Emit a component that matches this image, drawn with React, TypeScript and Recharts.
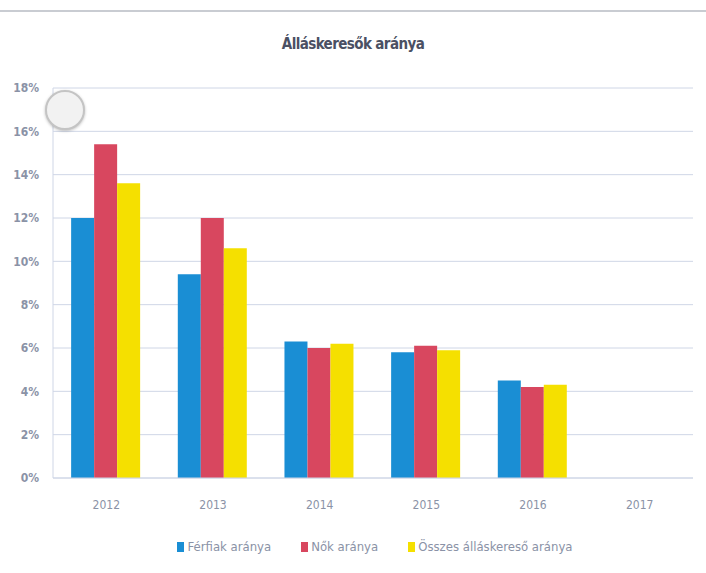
import React from 'react';
import { BarChart, Bar, XAxis, YAxis, CartesianGrid } from 'recharts';

const years = ['2012', '2013', '2014', '2015', '2016', '2017'];
const ferfiak = [12.0, 9.4, 6.3, 5.8, 4.5, null];
const nok = [15.4, 12.0, 6.0, 6.1, 4.2, null];
const osszes = [13.6, 10.6, 6.2, 5.9, 4.3, null];
const yTicks = [0, 2, 4, 6, 8, 10, 12, 14, 16, 18];

const series = [
  { key: 'ferfiak', name: 'Férfiak aránya', color: '#1a8ed4' },
  { key: 'nok', name: 'Nők aránya', color: '#d8475f' },
  { key: 'osszes', name: 'Összes álláskereső aránya', color: '#f5e000' },
];

const data = years.map((y, i) => ({
  year: y,
  ferfiak: ferfiak[i],
  nok: nok[i],
  osszes: osszes[i],
}));

const FONT = '"DejaVu Sans Condensed", "Liberation Sans Narrow", "Open Sans", sans-serif';
const TEXT = '#8a92a6';

function LegendBox() {
  return (
    <div
      style={{
        position: 'absolute',
        left: 0,
        top: 539,
        width: 706,
        display: 'flex',
        justifyContent: 'center',
        gap: 30,
        fontSize: 13,
        color: TEXT,
        paddingLeft: 44,
        boxSizing: 'border-box',
      }}
    >
      {series.map((s) => (
        <span key={s.key} style={{ display: 'flex', alignItems: 'center' }}>
          <span style={{ width: 7, height: 10, background: s.color, display: 'inline-block', marginRight: 3 }} />
          {s.name}
        </span>
      ))}
    </div>
  );
}

export default function App() {
  return (
    <div style={{ position: 'absolute', left: 0, top: 0, width: 706, height: 573, background: '#fff', fontFamily: FONT }}>
      <div style={{ position: 'absolute', left: 0, top: 10, width: 706, height: 2, background: '#c9ccd2' }} />
      <div
        style={{
          position: 'absolute',
          left: 0,
          top: 35,
          width: 706,
          textAlign: 'center',
          fontWeight: 700,
          fontSize: 15,
          letterSpacing: -0.6,
          color: '#4a5063',
        }}
      >
        Álláskeresők aránya
      </div>
      <BarChart
        width={706}
        height={573}
        data={data}
        margin={{ top: 88, right: 13, bottom: 65, left: 8 }}
        barCategoryGap="17%"
        barGap={0}
      >
        <CartesianGrid vertical={false} stroke="#cfd6e6" />
        <XAxis
          dataKey="year"
          height={30}
          tick={{ fill: TEXT, fontSize: 12, fontFamily: FONT }}
          axisLine={{ stroke: '#cfd6e6' }}
          tickLine={false}
          tickMargin={16}
        />
        <YAxis
          width={45}
          domain={[0, 18]}
          ticks={yTicks}
          interval={0}
          tickFormatter={(v) => `${v}%`}
          tick={{ fill: TEXT, fontSize: 12, fontFamily: FONT, fontWeight: 700 }}
          axisLine={{ stroke: '#cfd6e6' }}
          tickLine={false}
          tickMargin={8}
        />
        {series.map((s) => (
          <Bar key={s.key} dataKey={s.key} name={s.name} fill={s.color} isAnimationActive={false} />
        ))}
      </BarChart>
      <LegendBox />
      <div
        style={{
          position: 'absolute',
          left: 45,
          top: 90,
          width: 36,
          height: 36,
          borderRadius: '50%',
          background: '#f2f2f2',
          border: '2px solid #c4c4c4',
          boxShadow: '0 1px 3px rgba(0,0,0,0.25)',
        }}
      />
    </div>
  );
}
